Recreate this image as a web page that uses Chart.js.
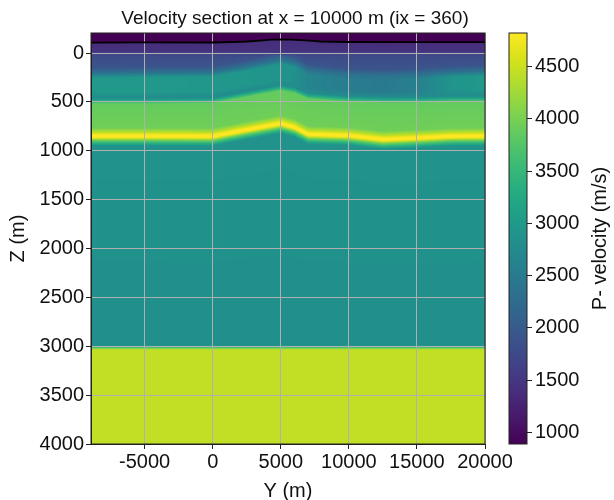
<!DOCTYPE html>
<html><head><meta charset="utf-8">
<script src="https://cdn.jsdelivr.net/npm/chart.js@4.4.0/dist/chart.umd.min.js"></script>
<style>
html,body{margin:0;padding:0;background:#fff;width:614px;height:500px;overflow:hidden}
#main{position:absolute;left:0;top:0}
#cbar{position:absolute;left:490px;top:0}
</style></head><body>
<canvas id="main" width="614" height="500"></canvas>
<canvas id="cbar" width="124" height="500"></canvas>
<script>
// ---------- texts & ticks ----------
const titleText = 'Velocity section at x = 10000 m (ix = 360)';
const xLabel = 'Y (m)';
const zLabel = 'Z (m)';
const cbLabel = 'P- velocity (m/s)';
const yTicks = [-5000, 0, 5000, 10000, 15000, 20000];
const zTicks = [0, 500, 1000, 1500, 2000, 2500, 3000, 3500, 4000];
const cbTicks = [1000, 1500, 2000, 2500, 3000, 3500, 4000, 4500];
const yRange = [-8940, 20000];
const zRange = [-205, 4000];
const vRange = [890, 4820];

// ---------- model: control columns (Y, m) and horizon depths (Z, m) ----------
const colY      = [-8940, -5000, 0, 2500, 5000, 6000, 7000, 10000, 12500, 15000, 17500, 20000];
const seabedZ   = [-107, -108, -110, -120, -140, -134, -122, -112, -110, -110, -110, -110];
const tealTopZ  = [205, 200, 195, 135, 65, 95, 175, 220, 230, 220, 195, 185];
const greenTopZ = [490, 490, 485, 420, 355, 380, 440, 470, 480, 480, 470, 470];
const yellowZ   = [850, 850, 852, 785, 722, 760, 832, 845, 884, 870, 852, 850];
const tealV     = [2980, 2980, 2950, 2950, 2900, 2850, 2650, 2520, 2480, 2580, 2900, 2980];
const basementZ = 3000;

// seabed line (black)
const lineY = [-8940, -5000, 0, 1500, 2500, 3500, 4300, 5000, 5700, 6500, 7400, 7900, 10000, 15000, 20000];
const lineZ = [-107, -109, -108, -113, -118, -128, -138, -140, -138, -133, -125, -118, -113, -111, -112];

// velocity profile knots: reference horizon, offset (m), velocity (m/s) or 'teal'
const knotRef = ['top','seabed','seabed','datum','datum','tealTop','tealTop','tealTop','greenTop','greenTop','greenTop','yellow','yellow','yellow','yellow','yellow','yellow','basement','basement','bottom'];
const knotDz  = [0, 0, 5, -20, 20, -60, 0, 50, -90, -30, 30, -85, -40, -12, 12, 45, 100, -10, 35, 0];
const knotV   = [900, 900, 1380, 1450, 1760, 1900, 2350, 'teal', 'teal', 2750, 3880, 3950, 4400, 4820, 4820, 3900, 2870, 2830, 4450, 4450];

// viridis colour map
const viridis = ['#440154','#48186a','#472d7b','#424086','#3b528b','#33638d','#2c728e','#26828e','#21918c','#1fa088','#28ae80','#3fbc73','#5ec962','#84d44b','#addc30','#d8e219','#fde725'];
const vir = viridis.map(h => [parseInt(h.slice(1,3),16), parseInt(h.slice(3,5),16), parseInt(h.slice(5,7),16)]);
function cmap(v){
  let t = (v - vRange[0]) / (vRange[1] - vRange[0]);
  t = Math.max(0, Math.min(1, t)) * (vir.length - 1);
  const i = Math.min(vir.length - 2, Math.floor(t)), f = t - i;
  return [0,1,2].map(c => vir[i][c] + (vir[i+1][c] - vir[i][c]) * f);
}
function lerpCol(arr, Y){
  let i = 0;
  while (i < colY.length - 2 && Y > colY[i+1]) i++;
  const f = Math.max(0, Math.min(1, (Y - colY[i]) / (colY[i+1] - colY[i])));
  return arr[i] + (arr[i+1] - arr[i]) * f;
}
function profileAt(Y){
  const h = {top: zRange[0], bottom: zRange[1], datum: 0, basement: basementZ,
    seabed: lerpCol(seabedZ, Y), tealTop: lerpCol(tealTopZ, Y), greenTop: lerpCol(greenTopZ, Y), yellow: lerpCol(yellowZ, Y)};
  const tv = lerpCol(tealV, Y);
  const z = knotRef.map((r, k) => h[r] + knotDz[k]);
  const v = knotV.map(x => x === 'teal' ? tv : x);
  return {z, v};
}

const FONT = 'Liberation Sans, Arial, Helvetica, sans-serif';
const FS = 19;
const TFS = 20;

const heatmap = {
  id: 'heatmap',
  beforeDraw(chart){
    const {ctx, chartArea: a, scales: {x, y}} = chart;
    const w = Math.round(a.right - a.left), h = Math.round(a.bottom - a.top);
    const off = document.createElement('canvas'); off.width = w; off.height = h;
    const octx = off.getContext('2d');
    const img = octx.createImageData(w, h);
    for (let i = 0; i < w; i++){
      const Y = x.getValueForPixel(a.left + i + 0.5);
      const p = profileAt(Y);
      let k = 0;
      for (let j = 0; j < h; j++){
        const Z = y.getValueForPixel(a.top + j + 0.5);
        while (k < p.z.length - 2 && Z > p.z[k+1]) k++;
        const dz = p.z[k+1] - p.z[k];
        const f = dz > 0 ? Math.max(0, Math.min(1, (Z - p.z[k]) / dz)) : 1;
        const c = cmap(p.v[k] + (p.v[k+1] - p.v[k]) * f);
        const o = (j * w + i) * 4;
        img.data[o] = c[0]; img.data[o+1] = c[1]; img.data[o+2] = c[2]; img.data[o+3] = 255;
      }
    }
    octx.putImageData(img, 0, 0);
    ctx.drawImage(off, a.left, a.top, a.right - a.left, a.bottom - a.top);
  },
  afterDraw(chart){
    const {ctx, chartArea: a} = chart;
    ctx.save();
    ctx.strokeStyle = '#222'; ctx.lineWidth = 1;
    ctx.strokeRect(a.left, a.top, a.right - a.left, a.bottom - a.top);
    ctx.fillStyle = '#111';
    ctx.font = FS + 'px ' + FONT;
    ctx.textAlign = 'center'; ctx.textBaseline = 'alphabetic';
    ctx.fillText(titleText, (a.left + a.right) / 2 + 7, 24);
    ctx.restore();
  }
};

const tickFont = {family: FONT, size: TFS};
new Chart(document.getElementById('main'), {
  type: 'line',
  data: {datasets: [{
    data: lineY.map((v, i) => ({x: v, y: lineZ[i]})),
    borderColor: '#000', borderWidth: 1.8, pointRadius: 0, tension: 0, fill: false
  }]},
  options: {
    responsive: false, animation: false, devicePixelRatio: 1,
    layout: {padding: {left: 0, right: 129, top: 33, bottom: 0}},
    plugins: {legend: {display: false}, tooltip: {enabled: false}, title: {display: false}},
    scales: {
      x: {
        type: 'linear', min: yRange[0], max: yRange[1],
        afterBuildTicks: s => { s.ticks = yTicks.map(v => ({value: v})); },
        afterFit: s => { s.height = 56; s.paddingLeft = 0; s.paddingRight = 0; },
        ticks: {callback: v => String(v), color: '#111', font: tickFont, padding: 1, maxRotation: 0, autoSkip: false},
        grid: {color: '#b0b0b0', lineWidth: 1, tickColor: '#222', tickLength: 5},
        border: {color: '#222', width: 1},
        title: {display: true, text: xLabel, color: '#111', font: tickFont, padding: {top: 0, bottom: -3}}
      },
      y: {
        type: 'linear', reverse: true, min: zRange[0], max: zRange[1],
        afterBuildTicks: s => { s.ticks = zTicks.map(v => ({value: v})); },
        afterFit: s => { s.width = 91; s.paddingTop = 0; s.paddingBottom = 0; },
        ticks: {callback: v => String(v), color: '#111', font: tickFont, padding: 2, autoSkip: false},
        grid: {color: '#b0b0b0', lineWidth: 1, tickColor: '#222', tickLength: 5},
        border: {color: '#222', width: 1},
        title: {display: true, text: zLabel, color: '#111', font: tickFont, padding: {top: 6, bottom: 0}}
      }
    }
  },
  plugins: [heatmap]
});

const cbarPlugin = {
  id: 'cbarPlugin',
  beforeDraw(chart){
    const {ctx, chartArea: a, scales: {y}} = chart;
    const y0 = y.getPixelForValue(vRange[0]), y1 = y.getPixelForValue(vRange[1]);
    const g = ctx.createLinearGradient(0, y0, 0, y1);
    viridis.forEach((c, i) => g.addColorStop(i / (viridis.length - 1), c));
    ctx.save();
    ctx.fillStyle = g;
    ctx.fillRect(a.left, a.top, a.right - a.left, a.bottom - a.top);
    ctx.restore();
  },
  afterDraw(chart){
    const {ctx, chartArea: a} = chart;
    ctx.save();
    ctx.strokeStyle = '#222'; ctx.lineWidth = 1;
    ctx.strokeRect(a.left, a.top, a.right - a.left, a.bottom - a.top);
    ctx.translate(110, (a.top + a.bottom) / 2);
    ctx.rotate(-Math.PI / 2);
    ctx.fillStyle = '#111';
    ctx.font = TFS + 'px ' + FONT;
    ctx.textAlign = 'center'; ctx.textBaseline = 'middle';
    ctx.fillText(cbLabel, 0, 0);
    ctx.restore();
  }
};

new Chart(document.getElementById('cbar'), {
  type: 'line',
  data: {datasets: []},
  options: {
    responsive: false, animation: false, devicePixelRatio: 1,
    layout: {padding: {left: 19, right: 0, top: 33, bottom: 56}},
    plugins: {legend: {display: false}, tooltip: {enabled: false}},
    scales: {
      x: {type: 'linear', min: 0, max: 1, display: false},
      y: {
        type: 'linear', position: 'right', min: vRange[0], max: vRange[1],
        afterBuildTicks: s => { s.ticks = cbTicks.map(v => ({value: v})); },
        afterFit: s => { s.width = 124 - 19 - 18; s.paddingTop = 0; s.paddingBottom = 0; },
        ticks: {callback: v => String(v), color: '#111', font: tickFont, padding: 3, autoSkip: false},
        grid: {drawOnChartArea: false, tickColor: '#222', tickLength: 5},
        border: {display: false}
      }
    }
  },
  plugins: [cbarPlugin]
});
</script></body></html>
